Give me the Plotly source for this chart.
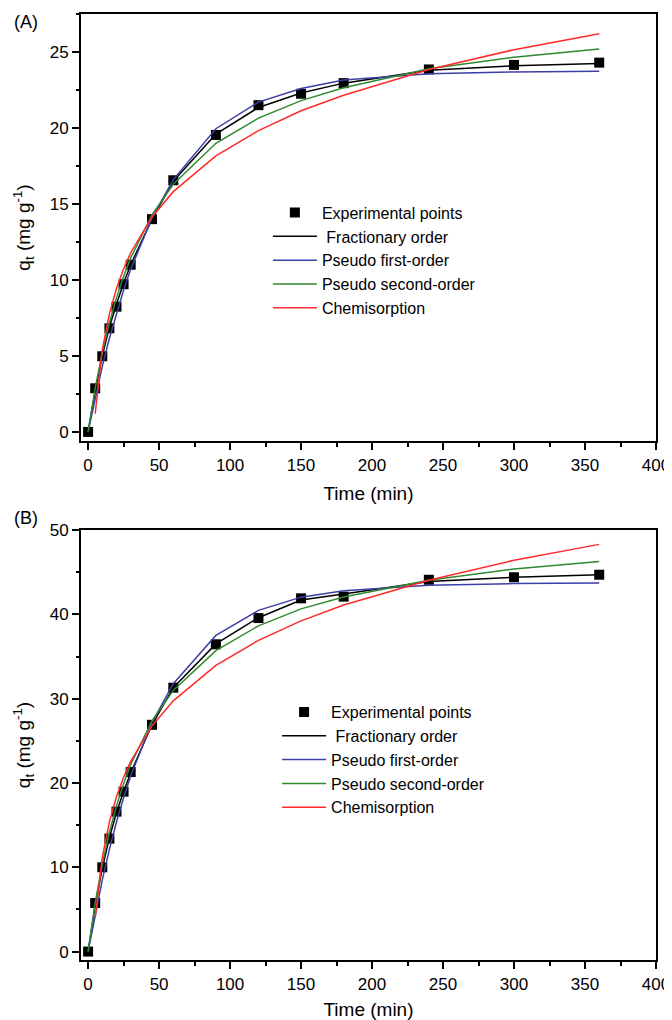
import plotly.graph_objects as go

# ---- data ----
time = [0, 5, 10, 15, 20, 25, 30, 45, 60, 90, 120, 150, 180, 240, 300, 360]
time_chem = [5, 10, 15, 20, 25, 30, 45, 60, 90, 120, 150, 180, 240, 300, 360]

A_exp = [0, 2.87, 4.98, 6.82, 8.24, 9.72, 11.0, 14.0, 16.56, 19.54, 21.5, 22.25, 22.95, 23.85, 24.15, 24.3]
A_frac = [0, 2.7, 5.0, 6.9, 8.4, 9.8, 11.0, 14.0, 16.5, 19.6, 21.35, 22.3, 22.95, 23.8, 24.1, 24.25]
A_pfo = [0, 2.26, 4.31, 6.16, 7.84, 9.34, 10.7, 14.08, 16.6, 19.95, 21.7, 22.6, 23.15, 23.56, 23.69, 23.73]
A_pso = [0, 2.88, 5.23, 7.18, 8.82, 10.23, 11.45, 14.28, 16.3, 18.99, 20.65, 21.8, 22.65, 23.9, 24.66, 25.2]
A_chem = [1.2, 5.42, 7.77, 9.44, 10.73, 11.79, 14.14, 15.81, 18.16, 19.83, 21.13, 22.15, 23.85, 25.15, 26.2]

B_exp = [0, 5.76, 10.0, 13.4, 16.6, 18.97, 21.3, 26.9, 31.3, 36.45, 39.56, 41.9, 42.1, 44.1, 44.4, 44.7]
B_frac = [0, 5.5, 9.9, 13.5, 16.5, 19.0, 21.2, 26.9, 31.3, 36.5, 39.6, 41.7, 42.4, 43.9, 44.4, 44.7]
B_pfo = [0, 4.48, 8.5, 12.12, 15.37, 18.25, 20.86, 27.17, 31.78, 37.5, 40.47, 42.04, 42.8, 43.45, 43.65, 43.73]
B_pso = [0, 5.78, 10.39, 14.15, 17.28, 19.92, 22.19, 27.36, 30.98, 35.7, 38.64, 40.65, 42.05, 44.05, 45.37, 46.27]
B_chem = [4.0, 11.18, 15.38, 18.36, 20.67, 22.56, 26.76, 29.74, 33.94, 36.92, 39.23, 41.1, 44.05, 46.42, 48.3]

names = ["Experimental points", " Fractionary order", "Pseudo first-order",
         "Pseudo second-order", "Chemisorption"]
x_ticks = [0, 50, 100, 150, 200, 250, 300, 350, 400]

# ---- styles ----
C_BLACK = "#000000"
C_BLUE = "#3c3fa6"
C_GREEN = "#2f8a2f"
C_RED = "#ff2a2a"
FONT = "Liberation Sans, Arial, sans-serif"

fig = go.Figure()

def add_panel(xa, ya, leg, exp, frac, pfo, pso, chem):
    fig.add_trace(go.Scatter(x=time, y=exp, mode="markers", name=names[0],
                             marker=dict(symbol="square", size=10, color=C_BLACK),
                             xaxis=xa, yaxis=ya, legend=leg))
    fig.add_trace(go.Scatter(x=time, y=frac, mode="lines", name=names[1],
                             line=dict(color=C_BLACK, width=1.5),
                             xaxis=xa, yaxis=ya, legend=leg))
    fig.add_trace(go.Scatter(x=time, y=pfo, mode="lines", name=names[2],
                             line=dict(color=C_BLUE, width=1.5),
                             xaxis=xa, yaxis=ya, legend=leg))
    fig.add_trace(go.Scatter(x=time, y=pso, mode="lines", name=names[3],
                             line=dict(color=C_GREEN, width=1.5),
                             xaxis=xa, yaxis=ya, legend=leg))
    fig.add_trace(go.Scatter(x=time_chem, y=chem, mode="lines", name=names[4],
                             line=dict(color=C_RED, width=1.5),
                             xaxis=xa, yaxis=ya, legend=leg))

add_panel("x", "y", "legend", A_exp, A_frac, A_pfo, A_pso, A_chem)
add_panel("x2", "y2", "legend2", B_exp, B_frac, B_pfo, B_pso, B_chem)

axis_common = dict(
    showline=True, linecolor="black", linewidth=2, mirror=True,
    ticks="outside", ticklen=7, tickwidth=1.5, tickcolor="black",
    showgrid=False, zeroline=False, automargin=False,
    tickfont=dict(family=FONT, size=17, color="black"),
)

xcommon = dict(axis_common, range=[-5, 400], tickvals=x_ticks, ticklabelstandoff=1,
               minor=dict(ticks="outside", ticklen=3.5, tickwidth=1.5, tickcolor="black", dtick=25, tick0=0),
               title=dict(text="Time (min)", font=dict(family=FONT, size=19, color="black"), standoff=12))

ytitle = dict(text="q<sub>t</sub> (mg g<sup>-1</sup>)",
              font=dict(family=FONT, size=19, color="black"), standoff=14)

legend_common = dict(xanchor="left", yanchor="top", bgcolor="rgba(0,0,0,0)",
                     font=dict(family=FONT, size=16, color="black"),
                     tracegroupgap=0, itemwidth=44)

# the page body has an 8 px margin, so the figure is sized to fill the rest of the window
fig.update_layout(
    width=664, height=1012,
    margin=dict(l=73, r=16, t=6, b=60, autoexpand=False),
    paper_bgcolor="white", plot_bgcolor="white",
    font=dict(family=FONT, color="black"),
    xaxis=dict(xcommon, anchor="y"),
    yaxis=dict(axis_common, domain=[0.5486, 1.0], anchor="x", range=[-0.6, 27.5],
               dtick=5, tick0=0,
               minor=dict(ticks="outside", ticklen=3.5, tickwidth=1.5, tickcolor="black", dtick=2.5, tick0=0),
               title=ytitle),
    xaxis2=dict(xcommon, anchor="y2"),
    yaxis2=dict(axis_common, domain=[0.0, 0.4545], anchor="x2", range=[-1, 50],
                dtick=10, tick0=0,
                minor=dict(ticks="outside", ticklen=3.5, tickwidth=1.5, tickcolor="black", dtick=5, tick0=0),
                title=ytitle),
    legend=dict(legend_common, x=0.325, y=0.808),
    legend2=dict(legend_common, x=0.341, y=0.280),
    annotations=[
        dict(text="(A)", xref="paper", yref="paper", x=-0.12, y=0.9915, xanchor="left", yanchor="middle",
             showarrow=False, font=dict(family=FONT, size=18, color="black")),
        dict(text="(B)", xref="paper", yref="paper", x=-0.12, y=0.467, xanchor="left", yanchor="middle",
             showarrow=False, font=dict(family=FONT, size=18, color="black")),
    ],
)

fig.write_html("out.html")
